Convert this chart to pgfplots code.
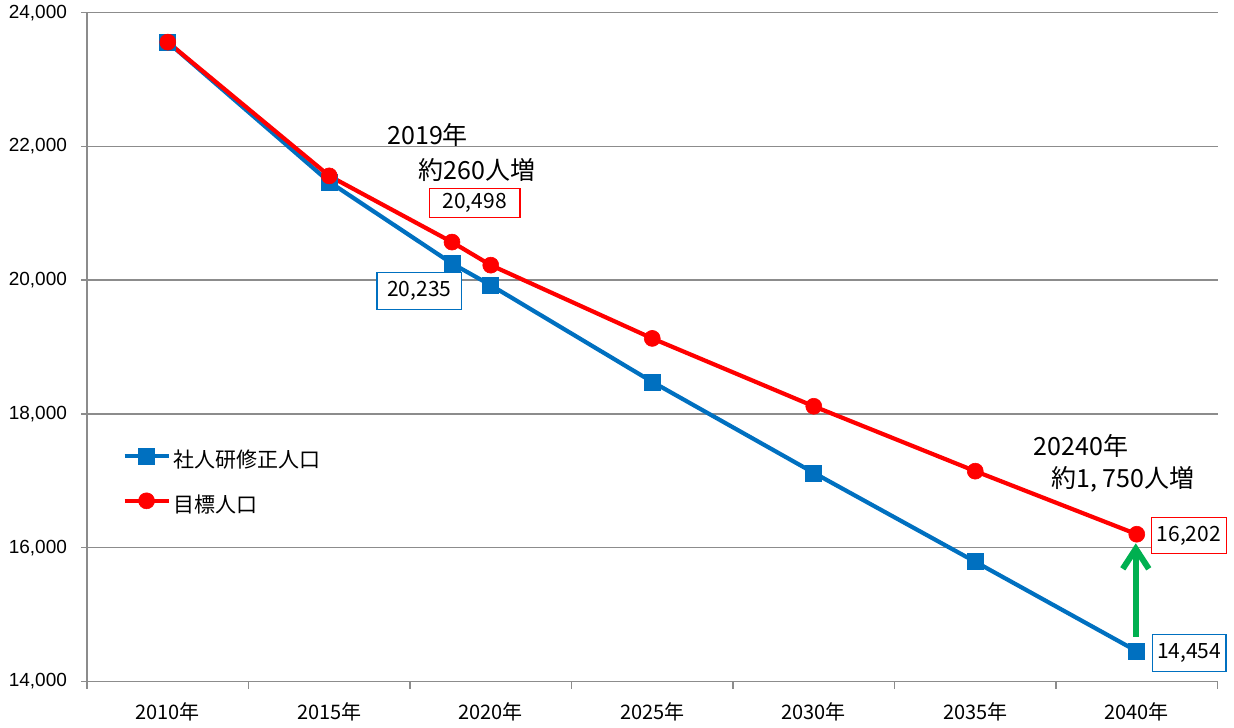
\documentclass[border=0pt]{standalone}
\usepackage{pgfplots}
\pgfplotsset{compat=1.18}
\usetikzlibrary{arrows.meta}
\usepackage{fontspec}
\setmainfont{Noto Sans CJK JP}
\newfontfamily\latinsans{Liberation Sans}
\definecolor{sblue}{HTML}{0070C0}
\definecolor{sred}{HTML}{FF0000}
\definecolor{sgreen}{HTML}{00B050}
\definecolor{gridgray}{HTML}{8C8C8C}
\tikzset{valbox/.style={rectangle, fill=white, text=black, inner sep=0pt, font=\fontsize{10.5}{12}\selectfont}}
\begin{document}
\begin{tikzpicture}
\begin{axis}[
  at={(0,0)}, anchor=south west,
  scale only axis, width=565.25pt, height=334.4pt,
  xmin=2007.5, xmax=2042.5, ymin=14000, ymax=24000,
  axis x line*=bottom, axis y line*=left,
  axis line style={gridgray, line width=0.75pt},
  tick align=outside,
  xtick={2010,2015,2020,2025,2030,2035,2040},
  xticklabels={2010年,2015年,2020年,2025年,2030年,2035年,2040年},
  minor xtick={2007.5,2012.5,2017.5,2022.5,2027.5,2032.5,2037.5,2042.5},
  major x tick style={draw=none},
  minor x tick style={gridgray, line width=0.75pt},
  minor tick length=3.5pt,
  major tick length=3pt,
  ytick={14000,16000,18000,20000,22000,24000},
  yticklabels={{14,000},{16,000},{18,000},{20,000},{22,000},{24,000}},
  y tick style={gridgray, line width=0.75pt},
  ymajorgrids,
  grid style={gridgray, line width=0.75pt},
  xticklabel style={font=\fontsize{10}{12}\selectfont, anchor=base, yshift=-16pt},
  yticklabel style={font=\latinsans\fontsize{9.5}{11}\selectfont, anchor=east, xshift=-3.5pt},
  clip=false,
  legend cell align=left,
  legend style={draw=none, fill=none, at={(0.031,0.350)}, anchor=north west,
    inner xsep=0pt, inner ysep=0pt, row sep=10.5pt,
    font=\fontsize{10.5}{12}\selectfont,
    nodes={text height=8pt, text depth=2pt, inner sep=0pt},
    /tikz/every even column/.append style={column sep=0pt}},
  legend image code/.code={
    \draw[mark repeat=2, mark phase=2, #1] plot coordinates {(0pt,3pt) (11pt,3pt) (22pt,3pt)};
    \path (23.5pt,0pt);},
]
\addplot[sblue, line width=2.1pt, mark=square*, mark size=4pt, mark options={line width=0.3pt, fill=sblue}]
  coordinates {(2010,23560) (2015,21470) (2018.8,20250) (2020,19925) (2025,18480) (2030,17120) (2035,15790) (2040,14454)};
\addlegendentry{社人研修正人口}
\addplot[sred, line width=2.1pt, mark=*, mark size=4pt, mark options={line width=0.3pt, fill=sred}]
  coordinates {(2010,23560) (2015,21560) (2018.8,20570) (2020,20225) (2025,19130) (2030,18115) (2035,17145) (2040,16202)};
\addlegendentry{目標人口}

\node[anchor=west, font=\fontsize{12.5}{14}\selectfont, inner sep=0pt] at (axis cs:2016.79,22171) {2019年};
\node[anchor=west, font=\fontsize{12.5}{14}\selectfont, inner sep=0pt] at (axis cs:2017.75,21641) {約260人増};
\node[anchor=center, font=\fontsize{12.5}{14}\selectfont, inner sep=0pt] at (axis cs:2038.27,17521) {20240年};
\node[anchor=center, font=\fontsize{12.5}{14}\selectfont, inner sep=0pt] at (axis cs:2039.57,17028) {約1, 750人増};

\node[valbox, minimum width=45pt, minimum height=14pt] (b1) at (axis cs:2019.5,21150) {20,498};
\node[valbox, minimum width=42pt, minimum height=18pt] (b2) at (axis cs:2017.79,19834) {20,235};
\node[valbox, minimum width=37pt, minimum height=17.5pt] (b3) at (axis cs:2041.61,16178) {16,202};
\node[valbox, minimum width=36.5pt, minimum height=18.5pt] (b4) at (axis cs:2041.62,14426) {14,454};
\draw[sred, line width=0.55pt] (b1.south west) rectangle (b1.north east);
\draw[sblue, line width=0.55pt] (b2.south west) rectangle (b2.north east);
\draw[sred, line width=0.55pt] (b3.south west) rectangle (b3.north east);
\draw[sblue, line width=0.55pt] (b4.south west) rectangle (b4.north east);

\draw[sgreen, line width=3pt, -{Straight Barb[length=10pt, width=13pt]}] (axis cs:2039.97,14670) -- (axis cs:2039.97,16066);
\end{axis}
\pgfresetboundingbox
\path[use as bounding box] (-43.5pt,-22.75pt) rectangle (573.5pt,340.75pt);
\end{tikzpicture}
\end{document}
